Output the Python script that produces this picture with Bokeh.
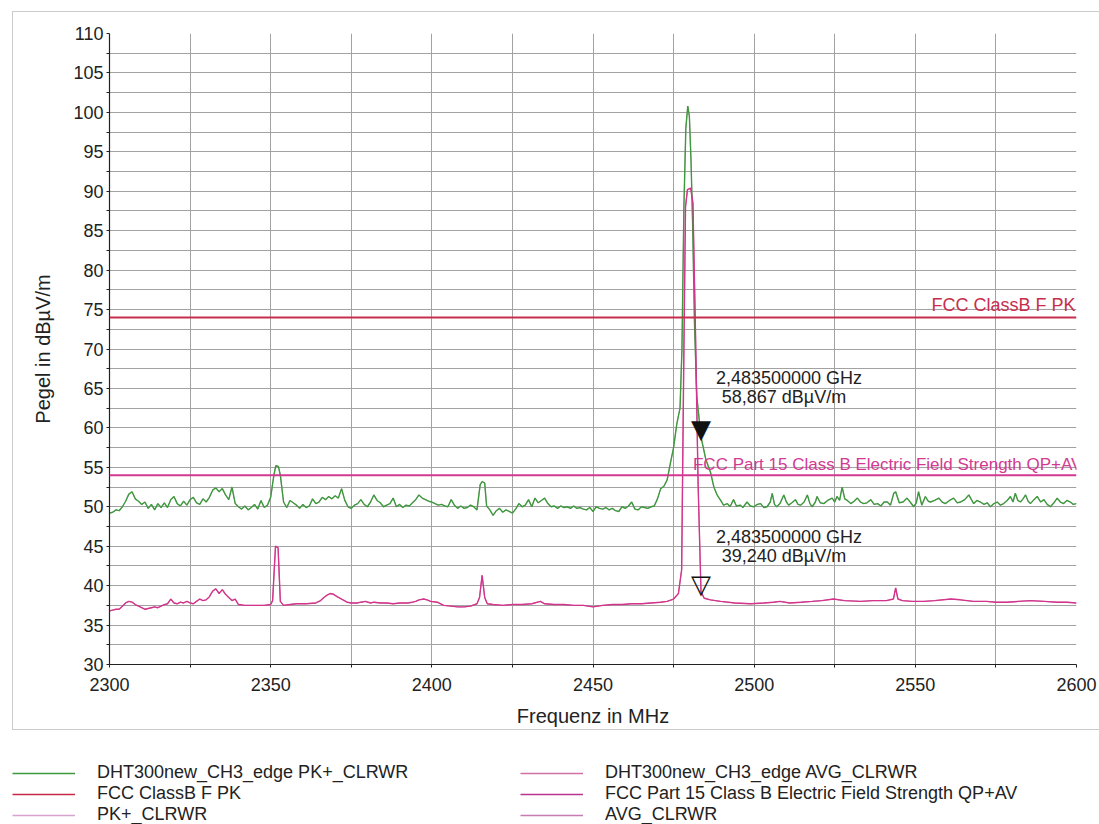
from bokeh.plotting import figure
from bokeh.models import Label, Legend, LegendItem, Range1d, FixedTicker, Span
from bokeh.layouts import column
from bokeh.embed import file_html
from bokeh.resources import INLINE
from bokeh.core.properties import value

FONT = "Liberation Sans"

# ---------------- data ----------------
x_ticks = [2300, 2350, 2400, 2450, 2500, 2550, 2600]
x_minor = [2325, 2375, 2425, 2475, 2525, 2575]
y_ticks = [30, 35, 40, 45, 50, 55, 60, 65, 70, 75, 80, 85, 90, 95, 100, 105, 110]
y_minor = [32.5, 37.5, 42.5, 47.5, 52.5, 57.5, 62.5, 67.5, 72.5, 77.5, 82.5, 87.5, 92.5, 97.5, 102.5, 107.5]

pk_freq = [2300, 2301, 2302, 2303, 2304, 2305, 2306, 2307, 2308, 2309, 2310, 2311, 2312, 2313, 2314, 2315,
           2316, 2317, 2318, 2319, 2320, 2321, 2322, 2323, 2324, 2325, 2326, 2327, 2328, 2329, 2330, 2331,
           2332, 2333, 2334, 2335, 2336, 2337, 2338, 2339, 2340, 2341, 2342, 2343, 2344, 2345, 2346, 2347,
           2348, 2349, 2350, 2351, 2351.6, 2352.4, 2353, 2354, 2355, 2356, 2357, 2358, 2359, 2360, 2361,
           2362, 2363, 2364, 2365, 2366, 2367, 2368, 2369, 2370, 2371, 2372, 2373, 2374, 2375, 2376, 2377,
           2378, 2379, 2380, 2381, 2382, 2383, 2384, 2385, 2386, 2387, 2388, 2389, 2390, 2391, 2392, 2393,
           2394, 2395, 2396, 2397, 2398, 2399, 2400, 2401, 2402, 2403, 2404, 2405, 2406, 2407, 2408, 2409,
           2410, 2411, 2412, 2413, 2414, 2415, 2415.6, 2416.4, 2417, 2418, 2419, 2420, 2421, 2422, 2423,
           2424, 2425, 2426, 2427, 2428, 2429, 2430, 2431, 2432, 2433, 2434, 2435, 2436, 2437, 2438, 2439,
           2440, 2441, 2442, 2443, 2444, 2445, 2446, 2447, 2448, 2449, 2450, 2451, 2452, 2453, 2454, 2455,
           2456, 2457, 2458, 2459, 2460, 2461, 2462, 2463, 2464, 2465, 2466, 2467, 2468, 2469, 2470, 2471,
           2472, 2473, 2474, 2475, 2476, 2477, 2477.6, 2478.2, 2478.8, 2479.4, 2479.9, 2480.4, 2480.9,
           2481.5, 2482.2, 2483.5, 2485, 2486.5, 2487.5, 2488.5, 2489.6, 2490.5, 2491.7, 2492.5, 2493.6,
           2494.5, 2495.7, 2496.5, 2497.8, 2498.8, 2499.8, 2501, 2502, 2503, 2504, 2505, 2505.6, 2506.3,
           2507, 2508, 2509.2, 2510, 2510.7, 2511.7, 2512.8, 2513.6, 2514.4, 2515.5, 2516.5, 2517.3, 2518,
           2519, 2519.5, 2520.5, 2521.6, 2522.8, 2524.2, 2525, 2525.7, 2526.5, 2527.3, 2528.1, 2528.9, 2530,
           2531, 2532, 2533, 2534, 2535, 2536.2, 2537.2, 2538.3, 2539.3, 2540.3, 2541.3, 2542.3, 2543.3,
           2543.9, 2545, 2546.2, 2547.4, 2548.4, 2549.5, 2550.3, 2551, 2552, 2553.1, 2554, 2554.7, 2556,
           2557.3, 2558.3, 2559.3, 2560.6, 2561.9, 2563, 2564, 2565.3, 2566.6, 2567.4, 2568.1, 2569.1,
           2570.2, 2571.3, 2572.3, 2573.3, 2574.4, 2575.4, 2576.4, 2577.4, 2578.5, 2579.5, 2580.3, 2581,
           2581.8, 2582.6, 2583.4, 2584.2, 2585, 2585.7, 2586.8, 2587.8, 2588.9, 2589.9, 2590.9, 2591.9,
           2593, 2594, 2595, 2596, 2597, 2598.1, 2599, 2600]
pk_level = [49.2, 49.3, 49.6, 49.5, 50.0, 50.7, 51.6, 51.9, 51.0, 50.7, 50.3, 50.6, 49.8, 50.3, 49.6, 50.4,
            49.9, 50.5, 49.9, 50.9, 51.3, 50.4, 50.1, 50.7, 50.2, 50.9, 51.2, 50.5, 50.3, 51.0, 50.6, 51.2,
            52.1, 52.4, 51.9, 52.3, 51.5, 50.9, 52.5, 50.4, 50.0, 49.7, 50.1, 49.6, 49.9, 50.3, 49.7, 50.8,
            49.9, 50.2, 51.2, 54.0, 55.2, 55.1, 54.0, 50.6, 49.9, 50.8, 50.5, 50.2, 49.8, 50.3, 49.9,
            50.1, 51.0, 50.4, 50.6, 51.2, 50.9, 51.3, 51.0, 51.4, 51.1, 52.3, 50.8, 50.0, 49.8, 50.2, 50.4,
            50.9, 50.3, 50.0, 50.6, 51.5, 50.8, 50.5, 50.0, 50.2, 50.4, 51.1, 50.0, 50.3, 49.9, 50.2, 50.1,
            50.5, 50.9, 51.5, 51.1, 50.9, 50.7, 50.6, 50.4, 50.2, 50.3, 50.1, 50.0, 50.9, 50.2, 49.8, 50.1,
            49.8, 49.9, 50.2, 50.0, 49.6, 52.8, 53.2, 53.0, 50.1, 49.6, 48.9, 49.5, 49.8, 49.3, 49.6,
            49.4, 49.2, 49.7, 50.4, 50.0, 50.2, 50.9, 50.0, 51.1, 50.5, 50.8, 51.1, 50.4, 50.0, 50.1, 49.8,
            50.1, 49.9, 50.0, 49.8, 50.1, 49.8, 49.9, 49.7, 49.6, 49.9, 49.4, 50.0, 49.8, 49.7, 49.9, 49.6,
            49.8, 49.5, 49.4, 50.0, 49.8, 50.1, 50.6, 49.7, 49.6, 50.0, 49.9, 49.8, 50.0, 50.1, 51.0, 52.3,
            52.6, 53.4, 55.5, 57.5, 60.5, 62.5, 70.0, 88.0, 98.0, 100.8, 99.5, 94.0, 86.0,
            73.0, 64.0, 58.867, 56.0, 54.3, 52.5, 51.5, 50.8, 50.2, 50.4, 50.0, 50.9,
            50.1, 50.2, 49.9, 50.6, 50.1, 50.0, 50.3, 50.4, 49.9, 50.0, 50.6, 51.7, 50.3,
            50.0, 50.4, 51.5, 50.6, 50.2, 50.5, 50.9, 50.3, 50.2, 50.6, 51.5, 50.4, 50.0,
            50.6, 51.3, 50.5, 50.4, 50.8, 51.1, 50.6, 51.3, 50.8, 52.5, 51.0, 50.8, 50.4,
            50.7, 51.1, 50.6, 50.4, 50.5, 50.9, 50.3, 50.4, 50.1, 50.6, 50.6, 50.2, 51.7,
            51.9, 50.5, 50.6, 51.1, 50.6, 50.0, 50.5, 51.9, 50.2, 51.3, 50.7, 50.6, 50.8,
            51.1, 50.6, 50.4, 50.8, 51.1, 50.5, 50.6, 50.9, 51.5, 50.9, 50.4, 50.8,
            50.6, 50.3, 50.5, 50.0, 50.4, 50.6, 50.2, 50.4, 50.8, 51.3, 50.6, 51.7,
            50.8, 50.6, 51.0, 51.5, 50.7, 50.4, 50.9, 51.3, 50.6, 50.9, 50.3, 50.0,
            50.5, 51.1, 50.6, 50.4, 50.8, 50.6, 50.3, 50.4]

avg_freq = [2300, 2301, 2302, 2303, 2304, 2305, 2306, 2307, 2308, 2309, 2310, 2311, 2312, 2313, 2314, 2315,
            2316, 2317, 2318, 2319, 2320, 2321, 2322, 2323, 2324, 2325, 2326, 2327, 2328, 2329, 2330, 2331,
            2332, 2333, 2334, 2335, 2336, 2337, 2338, 2339, 2340, 2342, 2345, 2348, 2350, 2350.6, 2351.5,
            2352.3, 2353, 2354, 2356, 2358, 2361, 2364, 2365.5, 2366.5, 2367.5, 2368.5, 2369.5, 2370.6, 2372,
            2373.7, 2375, 2376.8, 2378, 2379.4, 2381, 2382, 2384, 2386, 2388, 2390, 2392.4, 2394, 2395, 2396,
            2397.5, 2398.5, 2399.6, 2401.7, 2403.7, 2406, 2408, 2410, 2412, 2414, 2414.8, 2415.6, 2416.4,
            2417.2, 2419, 2422, 2425, 2428, 2431, 2433.7, 2435, 2438, 2441, 2444, 2447, 2450, 2453, 2456,
            2459, 2462, 2465, 2468, 2471, 2473, 2475, 2476.5, 2477.5, 2478.2, 2478.7, 2479.3, 2480.3, 2481.0,
            2481.8, 2482.6, 2483.5, 2484.5, 2486.4, 2489.6, 2494, 2498.9, 2503, 2506, 2508, 2511, 2514.6,
            2518, 2521, 2524.6, 2528, 2533, 2537, 2541, 2543.2, 2543.9, 2544.6, 2546, 2549, 2552.6, 2556,
            2561, 2564, 2568, 2572, 2575, 2578.5, 2582, 2585.7, 2590, 2594, 2597, 2600]
avg_level = [36.8, 36.9, 37.0, 37.0, 37.4, 37.8, 38.0, 37.9, 37.6, 37.4, 37.2, 37.0, 37.1, 37.2, 37.3, 37.2,
             37.4, 37.6, 37.7, 38.3, 37.8, 37.7, 37.9, 37.8, 38.0, 37.8, 37.7, 38.0, 38.3, 38.1, 38.2, 38.6,
             39.3, 39.6, 39.0, 39.5, 38.9, 38.5, 38.1, 38.3, 37.6, 37.5, 37.5, 37.5, 37.6, 38.1, 45.0,
             44.8, 38.0, 37.5, 37.6, 37.7, 37.7, 37.8, 38.1, 38.5, 38.8, 39.0, 38.9, 38.6, 38.3,
             37.9, 37.8, 37.8, 37.9, 38.0, 37.8, 37.9, 37.8, 37.8, 37.7, 37.8, 37.8, 37.9, 38.0, 38.2,
             38.3, 38.2, 38.0, 37.9, 37.5, 37.4, 37.3, 37.3, 37.4, 37.7, 38.5, 41.3, 38.5,
             37.7, 37.6, 37.5, 37.6, 37.6, 37.7, 38.0, 37.7, 37.6, 37.6, 37.5, 37.5, 37.3, 37.5, 37.6,
             37.6, 37.7, 37.7, 37.8, 37.9, 38.0, 38.3, 39.0, 42.0, 70.0, 88.0, 90.2, 90.4, 88.5,
             72.0, 53.0, 39.24, 38.4, 38.2, 38.0, 37.8, 37.7, 37.8, 37.9, 38.0, 37.8, 37.9,
             38.0, 38.1, 38.3, 38.1, 38.0, 38.1, 38.1, 38.3, 39.7, 38.3, 38.1, 38.0, 38.0, 38.1,
             38.3, 38.2, 38.0, 38.0, 37.9, 37.9, 38.0, 38.1, 38.0, 37.9, 37.9, 37.8]

limit_pk = 74.0      # FCC ClassB F PK
limit_av = 54.0      # FCC Part 15 Class B QP+AV
marker_freq = 2483.5
marker_pk = 58.867
marker_av = 39.240

legend_labels = ["DHT300new_CH3_edge PK+_CLRWR", "FCC ClassB F PK", "PK+_CLRWR",
                 "DHT300new_CH3_edge AVG_CLRWR", "FCC Part 15 Class B Electric Field Strength QP+AV", "AVG_CLRWR"]
legend_colors = ["#3c9a3c", "#c42a48", "#d7a3cf", "#cf6fa5", "#b9348e", "#c77bb5"]

GREEN = "#3c9a3c"
PINK = "#d2358a"
RED = "#c62e4c"
MAGENTA = "#d23a92"
GRID = "#a2a2a2"
TXT = "#222222"
FRAME_LINE = "#cbcbcb"

# ---------------- chart ----------------
p = figure(width=1099, height=730, x_range=Range1d(2300, 2600), y_range=Range1d(30, 110),
           output_backend="svg", toolbar_location=None,
           min_border_left=109, min_border_right=23, min_border_top=33, min_border_bottom=66)
p.frame_align = False
p.outline_line_color = None
p.background_fill_color = "white"
p.border_fill_color = "white"
p.border_fill_alpha = 0
# faint page frame around the chart area (CSS background lines behind the transparent border)
g = "linear-gradient(%s,%s)" % (FRAME_LINE, FRAME_LINE)
p.styles = {
    "background": ", ".join([
        g + " 12px 11px / 1087px 1px no-repeat",
        g + " 12px 11px / 1px 719px no-repeat",
        g + " 12px 729px / 1087px 1px no-repeat",
    ]),
    "background-color": "white",
}

p.xaxis.ticker = FixedTicker(ticks=x_ticks, minor_ticks=x_minor)
p.yaxis.ticker = FixedTicker(ticks=y_ticks, minor_ticks=y_minor)
for gr in (p.xgrid, p.ygrid):
    gr.grid_line_color = GRID
    gr.minor_grid_line_color = GRID
    gr.grid_line_width = 1
    gr.minor_grid_line_width = 1

for ax in (p.xaxis, p.yaxis):
    ax.axis_line_color = TXT
    ax.axis_line_width = 1.2
    ax.major_tick_line_color = TXT
    ax.minor_tick_line_color = TXT
    ax.major_tick_in = 0
    ax.major_tick_out = 3
    ax.minor_tick_in = 0
    ax.minor_tick_out = 3
    ax.major_label_text_font = FONT
    ax.major_label_text_font_size = "18px"
    ax.major_label_text_color = TXT
    ax.axis_label_text_font = FONT
    ax.axis_label_text_font_size = "20px"
    ax.axis_label_text_font_style = "normal"
    ax.axis_label_text_color = TXT

p.xaxis.axis_label = "Frequenz in MHz"
p.yaxis.axis_label = "Pegel in dBµV/m"
p.xaxis.major_label_standoff = 10
p.xaxis.axis_label_standoff = 11
p.yaxis.major_label_standoff = 3
p.yaxis.axis_label_standoff = 16

# limit lines
p.add_layout(Span(location=limit_pk, dimension="width", line_color=RED, line_width=2))
p.add_layout(Span(location=limit_av, dimension="width", line_color=MAGENTA, line_width=2))

# traces
p.line(pk_freq, pk_level, line_color="#d7a3cf", line_width=1)
p.line(avg_freq, avg_level, line_color="#c77bb5", line_width=1)
p.line(pk_freq, pk_level, line_color=GREEN, line_width=1.4)
p.line(avg_freq, avg_level, line_color=PINK, line_width=1.4)

# limit labels
p.add_layout(Label(x=2600, y=limit_pk, text="FCC ClassB F PK", text_align="right", text_baseline="bottom",
                   x_offset=-1, y_offset=2, text_color=RED, text_font=FONT, text_font_size="18px"))
p.add_layout(Label(x=marker_freq, y=limit_av,
                   text="FCC Part 15 Class B Electric Field Strength QP+AV", text_align="left",
                   text_baseline="bottom", x_offset=-8, y_offset=1, text_color=MAGENTA, text_font=FONT,
                   text_font_size="17px"))

# markers
p.text(x=[marker_freq], y=[marker_pk], text=["▼"], text_align="center", text_baseline="alphabetic",
       y_offset=-8, text_color="#111111", text_font=value("DejaVu Sans"), text_font_size="26px")
p.text(x=[marker_freq], y=[marker_av], text=["▽"], text_align="center", text_baseline="alphabetic",
       y_offset=-8, text_color="#111111", text_font=value("DejaVu Sans"), text_font_size="26px")

def ghz(f):
    return ("%.9f" % (f / 1000.0)).replace(".", ",") + " GHz"

def lvl(v):
    return ("%.3f" % v).replace(".", ",") + " dBµV/m"

for val, dy in ((marker_pk, -59), (marker_av, -55)):
    p.text(x=[marker_freq], y=[val], text=[ghz(marker_freq)], x_offset=88, y_offset=dy,
           text_align="center", text_baseline="middle", text_color=TXT, text_font=value(FONT),
           text_font_size="18px")
    p.text(x=[marker_freq], y=[val], text=[lvl(val)], x_offset=83, y_offset=dy + 19,
           text_align="center", text_baseline="middle", text_color=TXT, text_font=value(FONT),
           text_font_size="18px")

# ---------------- legend strip below the chart ----------------
pl = figure(width=1099, height=94, x_range=Range1d(0, 1), y_range=Range1d(0, 1),
            output_backend="svg", toolbar_location=None, x_axis_type=None, y_axis_type=None,
            min_border_left=0, min_border_right=0, min_border_top=0, min_border_bottom=0)
pl.frame_align = False
pl.outline_line_color = None
pl.background_fill_color = "white"
pl.border_fill_color = "white"

# same series, drawn in the strip only to feed its legend (out of this strip's ranges)
lr = [
    pl.line(pk_freq, pk_level, line_color=legend_colors[0], line_width=1.6),
    pl.line([x_ticks[0], x_ticks[-1]], [limit_pk, limit_pk], line_color=legend_colors[1], line_width=1.6),
    pl.line(pk_freq, pk_level, line_color=legend_colors[2], line_width=1.6),
    pl.line(avg_freq, avg_level, line_color=legend_colors[3], line_width=1.6),
    pl.line([x_ticks[0], x_ticks[-1]], [limit_av, limit_av], line_color=legend_colors[4], line_width=1.6),
    pl.line(avg_freq, avg_level, line_color=legend_colors[5], line_width=1.6),
]

def make_legend(idx, loc):
    items = [LegendItem(label=legend_labels[i], renderers=[lr[i]]) for i in idx]
    return Legend(items=items, location=loc, orientation="vertical",
                  glyph_width=63, glyph_height=20, label_standoff=22, label_height=20,
                  spacing=0, padding=0, margin=0, border_line_color=None, background_fill_alpha=0,
                  label_text_font=FONT, label_text_font_size="18px", label_text_color=TXT)

pl.add_layout(make_legend([0, 1, 2], (12, -1)), "center")
pl.add_layout(make_legend([3, 4, 5], (520, -1)), "center")

layout = column(p, pl, spacing=0)
open("out.html", "w").write(file_html(layout, INLINE))
